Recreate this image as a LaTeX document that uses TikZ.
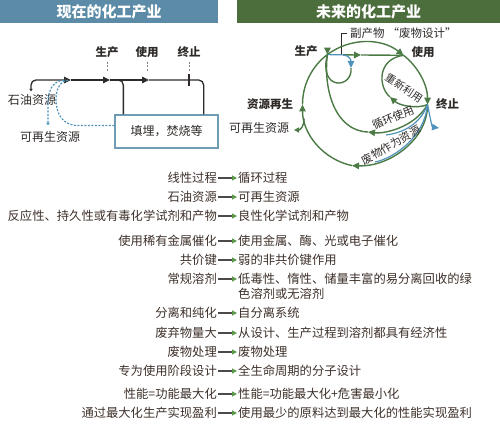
\documentclass[tikz,border=0pt]{standalone}
\usepackage{fontspec}
\setmainfont{Noto Sans CJK SC}
\usetikzlibrary{arrows.meta}

\definecolor{hdrblue}{HTML}{5B8BA6}
\definecolor{hdrgreen}{HTML}{4C6E3D}
\definecolor{cyclegreen}{HTML}{4B7A45}
\definecolor{flowblue}{HTML}{4F93BA}
\definecolor{boxblue}{HTML}{6E9CB5}
\definecolor{inkdark}{HTML}{2E2A28}
\definecolor{txtbrown}{HTML}{3D302A}
\definecolor{tipgreen}{HTML}{5A9A48}

\tikzset{
  hdrbar/.style={minimum height=23pt, inner sep=0pt, text=white, font=\fontsize{15}{17}\selectfont\bfseries},
  stage/.style={inner sep=1pt, text=inkdark, font=\fontsize{11.5}{13}\selectfont\bfseries},
  src/.style={inner sep=1pt, text=inkdark, font=\fontsize{12}{14}\selectfont},
  along/.style={inner sep=0pt, text=inkdark, font=\fontsize{11}{13}\selectfont},
  note/.style={inner sep=3pt, text=inkdark, font=\fontsize{11.5}{13}\selectfont},
  dumpbox/.style={draw=boxblue, line width=1.3pt, fill=white, minimum width=103pt, minimum height=33pt, inner sep=0pt, text=inkdark, font=\fontsize{12}{14}\selectfont},
  flow/.style={draw=inkdark, line width=1.3pt},
  cyc/.style={draw=cyclegreen, line width=1.4pt},
  blu/.style={draw=flowblue, line width=1.2pt},
  dashflow/.style={draw=flowblue, line width=1.2pt, dash pattern=on 2pt off 1.5pt},
  tickline/.style={draw=gray, line width=0.8pt, dash pattern=on 2pt off 1.5pt},
  endtip/.style={-{Triangle[length=7pt,width=6.5pt]}},
  starttip/.style={{Triangle[length=2.5pt,width=3.5pt]}-},
  oldtxt/.style={anchor=east, inner sep=1pt, text=txtbrown, font=\fontsize{12.3}{14}\selectfont},
  newtxt/.style={anchor=west, inner sep=1pt, text=txtbrown, font=\fontsize{12.3}{14}\selectfont},
  turnarrow/.style={draw=inkdark!85, line width=1.1pt, -{Triangle[length=5pt,width=5pt,color=tipgreen]}}
}

\begin{document}
\begin{tikzpicture}[x=1pt, y=1pt]
    \useasboundingbox (0,0) rectangle (500,439);

    % Headers
    \node[hdrbar, fill=hdrblue, minimum width=218pt] (nowhdr) at (109,427.5) {现在的化工产业};
    \node[hdrbar, fill=hdrgreen, minimum width=263pt] (futhdr) at (368.5,427.5) {未来的化工产业};

    % Linear process
    \node[stage] (make1) at (107,387) {生产};
    \node[stage] (use1) at (147,387) {使用};
    \node[stage] (end1) at (189,387) {终止};
    \node[src] (oil) at (32,339) {石油资源};
    \node[src] (renew1) at (50,302) {可再生资源};
    \node[dumpbox] (dump) at (166.5,307.5) {填埋，焚烧等};

    \coordinate (a1) at (71,359);
    \coordinate (a2) at (110,359);
    \coordinate (a3) at (149,359);
    \coordinate (halt) at (189,359);
    \coordinate (join1) at (66,359);
    \coordinate (join2) at (69,359);

    \draw[tickline] ([yshift=-3pt]make1.south) -- ++(0,-9);
    \draw[tickline] ([yshift=-3pt]use1.south) -- ++(0,-9);
    \draw[tickline] ([yshift=-3pt]end1.south) -- ++(0,-9);

    \draw[flow, {Triangle[length=2.5pt,width=3.5pt]}-{Triangle[length=7pt,width=6.5pt]}, rounded corners=5pt] ([xshift=-1pt,yshift=2pt]oil.north) |- (a1);
    \draw[flow, endtip] (a1) -- (a2);
    \draw[flow, endtip] (a2) -- (a3);
    \draw[flow, rounded corners=5pt] (a3) -| ([xshift=-15pt]dump.north east);
    \draw[flow, rounded corners=5pt] (a2) -| ([xshift=9pt]dump.north west);
    \draw[inkdark, line width=2.2pt] ([yshift=-6pt]halt) -- ([yshift=6pt]halt);

    \draw[dashflow, starttip] ([xshift=-2pt,yshift=5pt]renew1.north) -- (48,336) .. controls (48,352) and (55,359) .. (join1);
    \draw[dashflow] ([yshift=6pt]dump.west) -- (78,313.5) .. controls (62,313.5) and (56,326) .. (56,340) .. controls (56,352) and (62,359) .. (join2);

    % Cycle
    \node[stage] (make2) at (306,388) {生产};
    \node[stage] (use2) at (423,387) {使用};
    \node[stage] (end2) at (447.5,335) {终止};
    \node[stage] (regen) at (270,335) {资源再生};
    \node[src] (renew2) at (259,311) {可再生资源};
    \node[note, anchor=west] (byprod) at (347,406) {副产物\hspace{3pt}“废物设计”};

    \coordinate (P) at (327.4,384.4);
    \coordinate (U) at (403.5,383.7);
    \coordinate (E) at (427.5,334.5);
    \coordinate (R) at (302.5,334.5);
    \coordinate (B) at (352,273.4);
    \coordinate (L0) at (343,384.1);
    \coordinate (L1) at (351,371);
    \coordinate (brk) at (341.7,384.2);
    \coordinate (chmid) at (361,384);
    \coordinate (A1) at (368,307);
    \coordinate (A2) at (390,342);
    \coordinate (X1) at (439,311);
    \coordinate (S0) at (304.1,320.4);
    \coordinate (S1) at (294,309);

    \draw[inkdark, line width=0.6pt] (brk) |- (byprod.west);

    \draw[cyc, endtip] (P) arc[start angle=127, end angle=52, radius=62.5];
    \draw[cyc, endtip] (U) arc[start angle=52, end angle=0, radius=62.5];
    \draw[cyc, endtip] (E) .. controls (428,300) and (390,272) .. (B);
    \draw[cyc, endtip] (B) arc[start angle=-102, end angle=-180, radius=62.5];
    \draw[cyc] (R) arc[start angle=180, end angle=127, radius=62.5];
    \draw[cyc, -{Triangle[length=5pt,width=5pt]}] (S0) .. controls (304,312) and (300,309) .. (S1);

    \draw[cyc, endtip] (L0) -- (chmid);
    \draw[cyc] (chmid) -- (U);
    \draw[cyc] (L1) .. controls (353,350) and (318,348) .. (P);
    \draw[blu, endtip] (P) -- (L0) .. controls (348,384) and (351,380) .. (L1);
    \draw[cyc, endtip] ([yshift=7pt]P) -- (P);

    \draw[cyc, endtip] (E) .. controls (415,312) and (385,305) .. (A1);
    \draw[cyc] (A1) .. controls (335,308) and (323,350) .. (P);
    \draw[cyc, endtip] (E) .. controls (418,330) and (400,333) .. (A2);
    \draw[cyc] (A2) .. controls (378,352) and (377,380) .. (U);

    \draw[blu] (E) .. controls (420,314) and (402,306) .. (386,304);
    \draw[blu] (E) .. controls (425,303) and (395,281) .. (375,277);
    \draw[blu, endtip] (E) .. controls (430,322) and (432,312) .. (X1);

    \node[along, font=\fontsize{10.5}{12}\selectfont, rotate=-33] (reuse) at (404,351) {重新利用};
    \node[along, rotate=23] (recycle) at (393,321.5) {循环使用};
    \node[along, rotate=30] (wasteres) at (391,294) {废物作为资源};

    % Comparison table
    \foreach \y/\oldt/\newt [count=\i] in {261/线性过程/循环过程,
        242/石油资源/可再生资源,
        223/反应性、持久性或有毒化学试剂和产物/良性化学试剂和产物,
        198/使用稀有金属催化/使用金属、酶、光或电子催化,
        179/共价键/弱的非共价键作用,
        160/常规溶剂/低毒性、惰性、储量丰富的易分离回收的绿,
        126/分离和纯化/自分离系统,
        106/废弃物量大/从设计、生产过程到溶剂都具有经济性,
        87/废物处理/废物处理,
        68/专为使用阶段设计/全生命周期的分子设计,
        45/性能=功能最大化/性能=功能最大化+危害最小化,
        26/通过最大化生产实现盈利/使用最少的原料达到最大化的性能实现盈利}{
        \node[oldtxt] (old\i) at (218,\y) {\oldt};
        \node[newtxt] (new\i) at (237,\y) {\newt};
        \draw[turnarrow] (old\i) -- (new\i);
    }
    \node[newtxt] (new6b) at (237,145) {色溶剂或无溶剂};

\end{tikzpicture}
\end{document}
